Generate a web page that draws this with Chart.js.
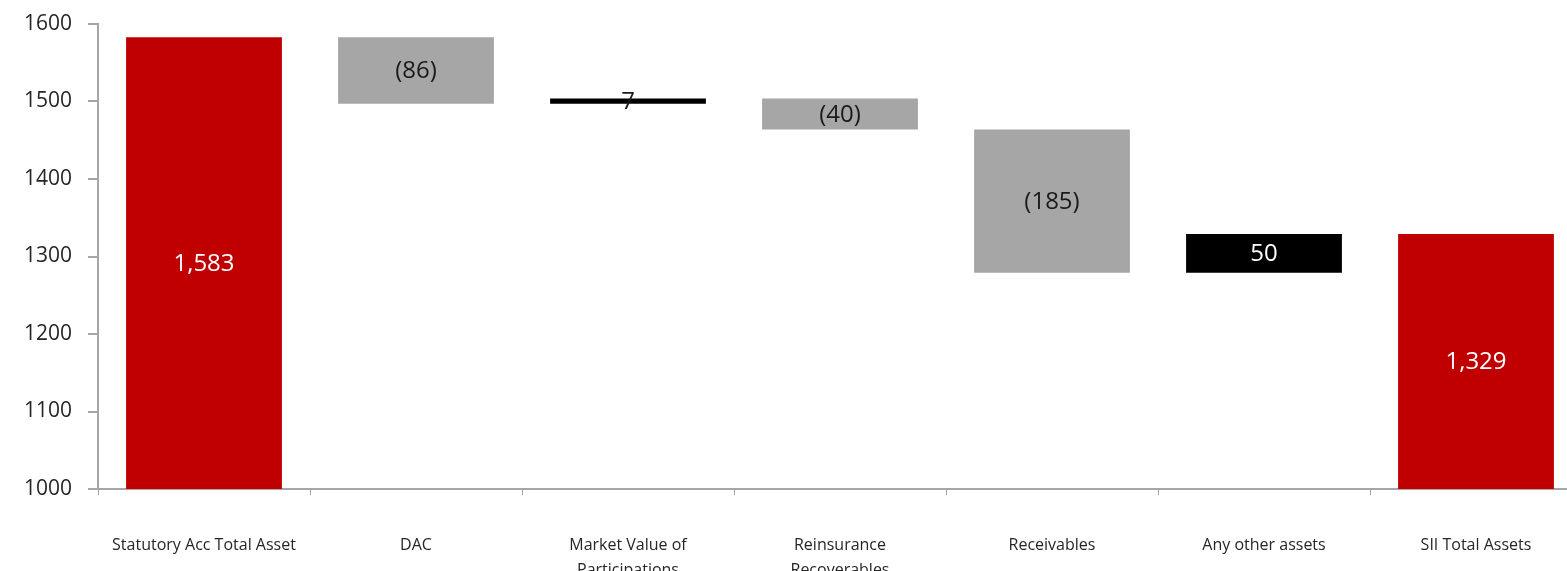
<!DOCTYPE html>
<html>
<head>
<meta charset="utf-8">
<script src="https://cdn.jsdelivr.net/npm/chart.js@4.4.0/dist/chart.umd.min.js"></script>
<style>
  html, body { margin: 0; padding: 0; background: #fff; overflow: hidden; }
  #wrap { position: absolute; left: 0; top: 0; width: 1586px; height: 600px; }
</style>
</head>
<body>
<div id="wrap"><canvas id="waterfall"></canvas></div>
<script>
// categories and step values of the waterfall
var categories = [
    'Statutory Acc Total Asset',
    'DAC',
    ['Market Value of', 'Participations'],
    ['Reinsurance', 'Recoverables'],
    'Receivables',
    'Any other assets',
    'SII Total Assets'
];
var stepValues = [1583, -86, 7, -40, -185, 50, 1329];
var isTotal = [true, false, false, false, false, false, true];
var valueLabels = ['1,583', '(86)', '7', '(40)', '(185)', '50', '1,329'];
var yTicks = [1000, 1100, 1200, 1300, 1400, 1500, 1600];

// build floating ranges from the steps
var axisMin = 1000;
var ranges = [];
var running = 0;
for (var i = 0; i < stepValues.length; i++) {
    if (isTotal[i]) {
        running = stepValues[i];
        ranges.push([axisMin, running]);
    } else {
        var start = running;
        running = running + stepValues[i];
        ranges.push([Math.min(start, running), Math.max(start, running)]);
    }
}

var barColors = stepValues.map(function (v, i) {
    if (isTotal[i]) return '#C00000';
    return v < 0 ? '#A6A6A6' : '#000000';
});
var labelColors = stepValues.map(function (v, i) {
    if (isTotal[i]) return '#ffffff';
    return v < 0 ? '#1a1a1a' : (Math.abs(v) < 20 ? '#1a1a1a' : '#ffffff');
});

// draws the value text in the middle of each bar
var barLabels = {
    id: 'barLabels',
    afterDatasetsDraw: function (chart) {
        var ctx = chart.ctx;
        var meta = chart.getDatasetMeta(0);
        ctx.save();
        ctx.textAlign = 'center';
        ctx.textBaseline = 'middle';
        ctx.font = '24px "Open Sans", sans-serif';
        meta.data.forEach(function (bar, i) {
            ctx.fillStyle = labelColors[i];
            var mid = (bar.y + bar.base) / 2;
            ctx.fillText(valueLabels[i], bar.x, mid + 1);
        });
        ctx.restore();
    }
};

var ctx = document.getElementById('waterfall').getContext('2d');
var chart = new Chart(ctx, {
    type: 'bar',
    data: {
        labels: categories,
        datasets: [{
            data: ranges,
            backgroundColor: barColors,
            borderWidth: 0,
            barPercentage: 0.735,
            categoryPercentage: 1.0,
            borderSkipped: false
        }]
    },
    options: {
        responsive: true,
        maintainAspectRatio: false,
        animation: false,
        layout: {
            padding: { top: 24, right: 4, left: 0, bottom: 0 }
        },
        plugins: {
            legend: { display: false },
            tooltip: { enabled: false }
        },
        scales: {
            x: {
                grid: {
                    display: true,
                    offset: true,
                    drawOnChartArea: false,
                    drawTicks: true,
                    tickLength: 6,
                    color: '#A6A6A6',
                    lineWidth: 1
                },
                border: { display: true, color: '#A6A6A6', width: 2 },
                ticks: {
                    padding: 38,
                    maxRotation: 0,
                    autoSkip: false,
                    color: '#262626',
                    font: { family: '"Open Sans", sans-serif', size: 16, lineHeight: 1.55 }
                },
                afterFit: function (scale) {
                    scale.height = 600 - 489;
                    scale.paddingLeft = 0;
                    scale.paddingRight = 0;
                }
            },
            y: {
                min: 1000,
                max: 1600,
                afterBuildTicks: function (scale) {
                    scale.ticks = yTicks.map(function (v) { return { value: v }; });
                },
                grid: {
                    display: true,
                    drawOnChartArea: false,
                    drawTicks: true,
                    tickLength: 10,
                    color: '#A6A6A6',
                    lineWidth: 2
                },
                border: { display: true, color: '#A6A6A6', width: 2 },
                ticks: {
                    padding: 16,
                    color: '#262626',
                    font: { family: '"Open Sans", sans-serif', size: 21 },
                    callback: function (v) { return String(v); }
                },
                afterFit: function (scale) {
                    scale.width = 98;
                    scale.paddingTop = 0;
                    scale.paddingBottom = 0;
                }
            }
        }
    },
    plugins: [barLabels]
});
</script>
</body>
</html>
